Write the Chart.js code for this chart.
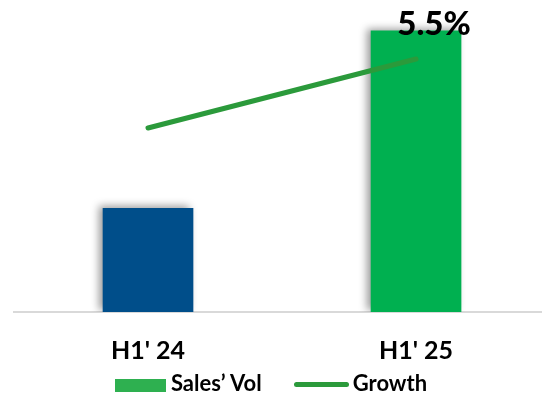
<!DOCTYPE html>
<html>
<head>
<meta charset="utf-8">
<script src="https://cdn.jsdelivr.net/npm/chart.js@4.4.0/dist/chart.umd.min.js"></script>
<style>
  html, body { margin: 0; padding: 0; background: #fff; }
  .wrap { position: relative; width: 542px; height: 395px; overflow: hidden; }
  #legend {
    position: absolute; left: 0; right: 0; top: 372px; height: 22px;
    display: flex; justify-content: center; align-items: center;
    font: bold 22px Lato, sans-serif; color: #000; line-height: 22px;
  }
  #legend .item { display: flex; align-items: center; }
  #legend .box { width: 51px; height: 13px; margin-right: 5px; position: relative; top: 2px; }
  #legend .line { width: 55px; height: 5px; border-radius: 3px; margin-right: 4px; position: relative; top: 1px; }
  #legend .item + .item { margin-left: 32px; }
</style>
</head>
<body>
<div class="wrap">
  <canvas id="chart"></canvas>
  <div id="legend"></div>
</div>
<script>
// Kategorier och serier
const categories = ["H1' 24", "H1' 25"];
const salesVol = [34.7, 94];
const growth = [4.0, 5.5];
const barColors = ['#004e8a', '#00b050'];

const lineColor = '#2b9a3b';

// Skugga bakom staplarna
const barShadow = {
    id: 'barShadow',
    beforeDatasetDraw(chart, args) {
        if (args.meta.type !== 'bar') return;
        const ctx = chart.ctx;
        ctx.save();
        ctx.shadowColor = 'rgba(0, 0, 0, 0.4)';
        ctx.shadowBlur = 8;
        ctx.shadowOffsetX = -4;
        ctx.shadowOffsetY = -2;
    },
    afterDatasetDraw(chart, args) {
        if (args.meta.type !== 'bar') return;
        chart.ctx.restore();
    }
};

// Etikett för sista tillväxtvärdet
const growthLabel = {
    id: 'growthLabel',
    afterDatasetsDraw(chart) {
        const meta = chart.getDatasetMeta(1);
        const last = meta.data[meta.data.length - 1];
        const ctx = chart.ctx;
        ctx.save();
        ctx.font = '900 33px Lato, sans-serif';
        ctx.fillStyle = '#000';
        ctx.textAlign = 'center';
        ctx.textBaseline = 'alphabetic';
        ctx.fillText(growth[growth.length - 1].toFixed(1) + '%', last.x + 18, last.y - 24);
        ctx.restore();
    }
};

const ctx = document.getElementById('chart').getContext('2d');
const chart = new Chart(ctx, {
    type: 'bar',
    data: {
        datasets: [{
            type: 'bar',
            label: 'Sales’ Vol',
            data: salesVol.map((v, i) => ({ x: i, y: v })),
            backgroundColor: barColors,
            legendColor: '#2eb050',
            barThickness: 90,
            yAxisID: 'y',
            order: 1
        }, {
            type: 'line',
            label: 'Growth',
            data: growth.map((v, i) => ({ x: i, y: v })),
            borderColor: lineColor,
            borderWidth: 5,
            borderCapStyle: 'round',
            pointRadius: 0,
            tension: 0.4,
            yAxisID: 'y2',
            order: 0
        }]
    },
    options: {
        responsive: true,
        maintainAspectRatio: false,
        animation: false,
        layout: { padding: { left: 14, top: 13, right: 0, bottom: 5 } },
        scales: {
            x: {
                type: 'linear',
                offset: false,
                min: -0.5,
                max: 1.47,
                grid: { display: false, drawTicks: false },
                border: { color: '#d9d9d9', width: 2 },
                // axeln ska gå ända ut till högerkanten
                afterFit: scale => { scale.paddingLeft = 0; scale.paddingRight = 0; },
                ticks: {
                    stepSize: 1,
                    autoSkip: false,
                    maxRotation: 0,
                    padding: 24,
                    color: '#000',
                    font: { family: 'Lato', weight: 'bold', size: 25 },
                    callback: v => Number.isInteger(v) ? (categories[v] ?? '') : ''
                }
            },
            y: { display: false, min: 0, max: 100 },
            y2: { display: false, min: 0, max: 6.5 }
        },
        plugins: {
            legend: { display: false },
            tooltip: { enabled: false }
        }
    },
    plugins: [barShadow, growthLabel]
});

// Förklaring under diagrammet
const legend = document.getElementById('legend');
chart.data.datasets.forEach(ds => {
    const item = document.createElement('div');
    item.className = 'item';
    const mark = document.createElement('span');
    if (ds.type === 'bar') {
        mark.className = 'box';
        mark.style.background = ds.legendColor;
    } else {
        mark.className = 'line';
        mark.style.background = ds.borderColor;
    }
    const text = document.createElement('span');
    text.textContent = ds.label;
    item.appendChild(mark);
    item.appendChild(text);
    legend.appendChild(item);
});
</script>
</body>
</html>
